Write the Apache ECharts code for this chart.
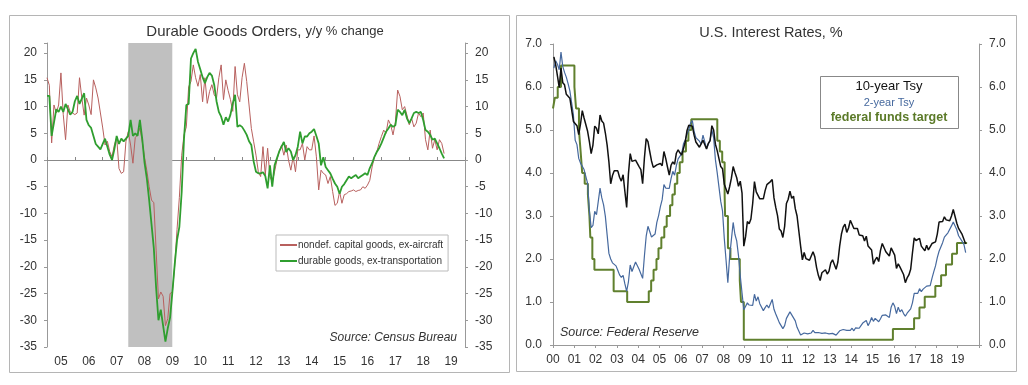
<!DOCTYPE html>
<html><head><meta charset="utf-8">
<script src="https://cdn.jsdelivr.net/npm/echarts@6/dist/echarts.min.js"></script>
<style>html,body{margin:0;padding:0;background:#fff}#c{width:1028px;height:385px}</style>
</head><body><div id="c"></div>
<script>
// ---------- Left panel: Durable goods orders, y/y % change (monthly, from 2005-01) ----------
const dgStart = 2005;
const dgYearLabels = ['05','06','07','08','09','10','11','12','13','14','15','16','17','18','19'];
const recession = ['2007-12-01', '2009-06-30'];
const nondefCapEx = [
  15.4, 14, 3.2, 10.3, 8.8, 10.3, 16.3, 8.5, 3.8, 10.3, 9, 8.8,
  8.5, 8.8, 15.4, 11.6, 8.4, 11.6, 10.3, 8.5, 15, 13.5, 11.6, 8.8,
  6, 2.8, 3.5, 1.6, 0.6, 2.8, 4.2, -1.6, -2.5, -2.2, 3.5, 5.3,
  2.8, -0.6, 4.2, 4.7, 6, 3.5, 0.5, -2, -5, -7.5, -8, -17,
  -26, -24.7, -25.5, -31, -29.7, -25, -24.7, -19.7, -13, -7, 0.9, 4.7,
  6.2, 13.7, 14.7, 17.8, 15.4, 13.8, 16, 10.9, 15.4, 10.6, 12.8, 14.1,
  12.2, 11.6, 15.4, 17.8, 11.3, 15, 13, 11.3, 9.1, 17.5, 12.2, 10.9,
  15.4, 18.1, 14.7, 10.3, 5.9, 3.4, 0.9, -2.2, -3.1, 2.5, -2.8, 2.2,
  -3.1, -4.1, -2.2, 0, 1.6, 2.8, 0.9, 2.8, 0, -1.9, 0.6, -2.2,
  1.9, 1.9, 3.1, 0, 2.5, 1.9, 1.9, 4.5, 0.6, -5.6, -1.9, -2.5,
  -2.8, -4.4, -3.1, -5.9, -8.5, -8.1, -5.9, -8.1, -6.5, -6.3, -5.9, -5.8,
  -5.6, -5.9, -5.7, -5.6, -5, -5.3, -4.7, -3.8, -1.3, 0.6, 1.5, 3.1,
  4.4, 5.6, 5, 7.5, 6.6, 4.7, 7, 13.1, 11.9, 9.4, 10, 8.4,
  6.6, 7.8, 6.2, 6.9, 8.8, 8.1, 8.8, 3.8, 1.9, 5.6, 2.2, 3.8,
  1.9, 3.8, 3.1, 1.2
];
const durableExTrans = [
  12, 12, 4.5, 7, 9.5, 9, 10, 9, 10.5, 9.5, 8.5, 9,
  11, 12, 10.5, 11.5, 12.5, 7.5, 6.5, 6, 4.5, 3, 2.5, 2,
  3, 4, 2.5, 1, 0, 2, 4.5, 3, 4, 3.5, 4, 4.5,
  7.5, 4.5, 5, 4.5, 7.5, 4, -0.5, -3.5, -7.5, -12, -16.5, -24,
  -30, -28, -31, -34, -31.5, -29.5, -24.7, -19.5, -15, -12.5, -6, 4,
  10.3, 10.5, 19, 20, 20.8, 18.4, 17, 15.5, 14.4, 15.5, 16.3, 15.8,
  14.1, 11, 9, 8.1, 6.6, 8, 7.2, 8.5, 10.6, 12.2, 6.2, 6.5,
  6.2, 5.5, 4.7, 3.5, 2.8, -0.3, -2.2, -2.5, -2.5, -2.3, -3, -5.3,
  -1, -5, -1, 0.3, 1.6, 2.5, 3.4, 1.5, 2.2, 1.6, 0, 0.9,
  2.5, 5.3, 3.1, 4.4, 4.4, 5, 5.3, 5.8, 4.5, 3.1, -1, 0.5,
  -1.3, -1.9, -2.5, -3.5, -4.4, -5, -6.3, -5, -4.5, -3.8, -3.1, -3.4,
  -3.1, -2.8, -3.4, -3.1, -2.8, -2.5, -2.8, -1.5, -0.6, 0.6, 1.5, 2.2,
  3.1, 4.2, 5.3, 5.9, 6.6, 6.2, 6.5, 9.4, 9, 8.4, 9.4, 7.8,
  6.9, 7.8, 8.8, 9, 8.8, 9, 7.5, 5.6, 5.3, 4.7, 3.8, 4,
  3.1, 2.2, 1.2, 0.3
];

// ---------- Right panel: U.S. interest rates, % (monthly averages from 2000-01) ----------
const irStart = 2000;
const tsy10 = [
  6.70, 6.52, 6.26, 5.99, 6.44, 6.10, 6.05, 5.83, 5.80, 5.74, 5.72, 5.20,
  5.16, 5.10, 4.89, 5.14, 5.45, 5.28, 5.24, 4.97, 4.73, 4.45, 4.65, 5.09,
  5.04, 4.91, 5.35, 5.21, 5.16, 4.93, 4.65, 4.26, 3.75, 3.94, 4.05, 4.03,
  4.05, 3.90, 3.81, 3.96, 3.57, 3.20, 3.98, 4.45, 4.27, 4.29, 4.30, 4.27,
  4.15, 4.08, 3.75, 4.35, 4.80, 4.73, 4.50, 4.28, 4.13, 4.10, 4.19, 4.23,
  4.22, 4.17, 4.50, 4.34, 4.14, 3.95, 4.18, 4.26, 4.20, 4.46, 4.54, 4.47,
  4.42, 4.57, 4.72, 4.99, 5.11, 5.15, 5.09, 4.88, 4.72, 4.73, 4.60, 4.56,
  4.76, 4.72, 4.56, 4.69, 4.75, 5.10, 5.00, 4.67, 4.52, 4.53, 4.15, 4.10,
  3.74, 3.74, 3.51, 3.68, 3.88, 4.15, 4.01, 3.89, 3.69, 3.81, 3.53, 2.30,
  2.52, 2.87, 2.82, 2.93, 3.29, 3.80, 3.56, 3.59, 3.40, 3.39, 3.40, 3.59,
  3.73, 3.69, 3.80, 3.85, 3.42, 3.20, 3.01, 2.70, 2.65, 2.50, 2.76, 3.29,
  3.39, 3.58, 3.41, 3.46, 3.17, 3.00, 3.00, 2.30, 1.98, 2.15, 2.01, 1.98,
  1.97, 1.97, 2.17, 2.05, 1.80, 1.62, 1.50, 1.68, 1.72, 1.75, 1.65, 1.72,
  1.91, 1.98, 1.96, 1.76, 1.93, 2.30, 2.58, 2.74, 2.81, 2.62, 2.72, 2.90,
  2.86, 2.71, 2.72, 2.71, 2.56, 2.60, 2.54, 2.42, 2.53, 2.30, 2.33, 2.21,
  1.88, 1.98, 2.04, 1.94, 2.20, 2.36, 2.32, 2.17, 2.17, 2.07, 2.26, 2.24,
  2.09, 1.78, 1.89, 1.81, 1.81, 1.64, 1.45, 1.56, 1.63, 1.76, 2.14, 2.49,
  2.43, 2.42, 2.48, 2.30, 2.30, 2.19, 2.32, 2.21, 2.20, 2.36, 2.35, 2.40,
  2.58, 2.86, 2.84, 2.87, 2.98, 2.91, 2.89, 2.89, 3.00, 3.15, 3.12, 2.83,
  2.71, 2.68, 2.57, 2.53, 2.35
];
const tsy2 = [
  6.44, 6.61, 6.53, 6.40, 6.81, 6.48, 6.34, 6.23, 6.08, 5.91, 5.88, 5.35,
  4.76, 4.66, 4.34, 4.23, 4.26, 4.08, 4.04, 3.76, 3.12, 2.73, 2.78, 3.11,
  3.03, 3.02, 3.65, 3.42, 3.26, 2.99, 2.56, 2.13, 2.00, 1.91, 1.92, 1.84,
  1.74, 1.63, 1.57, 1.62, 1.42, 1.25, 1.47, 1.86, 1.71, 1.75, 1.93, 1.91,
  1.76, 1.74, 1.55, 2.07, 2.53, 2.76, 2.64, 2.51, 2.53, 2.58, 2.85, 3.01,
  3.22, 3.38, 3.73, 3.65, 3.64, 3.64, 3.87, 4.04, 3.95, 4.17, 4.33, 4.35,
  4.45, 4.68, 4.77, 4.90, 5.00, 5.16, 5.22, 4.97, 4.82, 4.80, 4.74, 4.67,
  4.88, 4.85, 4.57, 4.67, 4.77, 5.00, 4.82, 4.31, 4.01, 3.97, 3.34, 3.12,
  2.48, 1.97, 1.45, 2.05, 2.45, 2.85, 2.57, 2.42, 2.08, 1.61, 1.21, 0.82,
  0.81, 0.98, 0.93, 0.93, 0.92, 1.18, 1.02, 1.12, 0.96, 0.95, 0.80, 0.87,
  0.93, 0.86, 0.96, 1.06, 0.83, 0.72, 0.62, 0.52, 0.48, 0.38, 0.45, 0.62,
  0.61, 0.77, 0.70, 0.73, 0.56, 0.41, 0.41, 0.23, 0.21, 0.28, 0.25, 0.26,
  0.24, 0.28, 0.34, 0.29, 0.29, 0.29, 0.25, 0.27, 0.26, 0.28, 0.27, 0.26,
  0.27, 0.27, 0.26, 0.23, 0.25, 0.33, 0.34, 0.36, 0.40, 0.34, 0.30, 0.34,
  0.39, 0.33, 0.40, 0.42, 0.39, 0.45, 0.51, 0.47, 0.57, 0.45, 0.53, 0.64,
  0.55, 0.62, 0.64, 0.54, 0.61, 0.69, 0.67, 0.70, 0.71, 0.64, 0.88, 0.98,
  0.90, 0.73, 0.88, 0.77, 0.82, 0.73, 0.67, 0.74, 0.77, 0.84, 0.98, 1.20,
  1.21, 1.20, 1.31, 1.24, 1.30, 1.34, 1.37, 1.34, 1.38, 1.55, 1.70, 1.84,
  2.03, 2.18, 2.28, 2.38, 2.51, 2.53, 2.61, 2.64, 2.77, 2.86, 2.86, 2.68,
  2.54, 2.50, 2.41, 2.34, 2.15
];
const ffDates = [
  '2000-01-01','2000-02-02','2000-03-21','2000-05-16','2001-01-03','2001-01-31','2001-03-20',
  '2001-04-18','2001-05-15','2001-06-27','2001-08-21','2001-09-17','2001-10-02','2001-11-06',
  '2001-12-11','2002-11-06','2003-06-25','2004-06-30','2004-08-10','2004-09-21','2004-11-10',
  '2004-12-14','2005-02-02','2005-03-22','2005-05-03','2005-06-30','2005-08-09','2005-09-20',
  '2005-11-01','2005-12-13','2006-01-31','2006-03-28','2006-05-10','2006-06-29','2007-09-18',
  '2007-10-31','2007-12-11','2008-01-22','2008-01-30','2008-03-18','2008-04-30','2008-10-08',
  '2008-10-29','2008-12-16','2015-12-16','2016-12-14','2017-03-15','2017-06-14','2017-12-13',
  '2018-03-21','2018-06-13','2018-09-26','2018-12-19','2019-06-10'
];
const ffTarget = [
  5.5, 5.75, 6.0, 6.5, 6.0, 5.5, 5.0,
  4.5, 4.0, 3.75, 3.5, 3.0, 2.5, 2.0,
  1.75, 1.25, 1.0, 1.25, 1.5, 1.75, 2.0,
  2.25, 2.5, 2.75, 3.0, 3.25, 3.5, 3.75,
  4.0, 4.25, 4.5, 4.75, 5.0, 5.25, 4.75,
  4.5, 4.25, 3.5, 3.0, 2.25, 2.0, 1.5,
  1.0, 0.125, 0.375, 0.625, 0.875, 1.125, 1.375,
  1.625, 1.875, 2.125, 2.375, 2.375
];

// ---------- helpers ----------
function toYear(s){ const p = s.split('-').map(Number); return p[0] + (p[1]-1)/12 + ((p[2]||1)-1)/365; }
const monthly = (arr, start, off) => arr.map((v,i)=>[start + (i+off)/12, v]);

const FONT = "'Liberation Sans', Arial, sans-serif";
const NARROW = "'Liberation Sans Narrow', 'Liberation Sans', Arial, sans-serif";
const axisGray = '#999';
const lblStyle = {color:'#333', fontSize:12, fontFamily:FONT};
const RED = '#b8605e', GREEN = '#2f9e2f';

const chart = echarts.init(document.getElementById('c'), null, {renderer:'canvas'});
chart.setOption({
  animation:false,
  backgroundColor:'#fff',
  textStyle:{fontFamily:FONT},
  title:[
    {text:'{a|Durable Goods Orders, }{b|y/y % change}', left:260, top:19, textAlign:'center',
     textStyle:{fontWeight:'normal', rich:{a:{fontSize:15,color:'#333',fontWeight:'normal',fontFamily:FONT}, b:{fontSize:13,color:'#333',fontWeight:'normal',fontFamily:FONT}}}},
    {text:'U.S. Interest Rates, %', left:766, top:20, textAlign:'center',
     textStyle:{fontSize:14.5,color:'#333',fontWeight:'normal',fontFamily:FONT}}
  ],
  legend:{
    left:276, top:235, orient:'vertical', itemWidth:17, itemHeight:2, itemGap:6,
    padding:[5,5,5,4], borderColor:'#bbb', borderWidth:1, backgroundColor:'#fff',
    data:[
      {name:'nondef. capital goods, ex-aircraft', icon:'rect', itemStyle:{color:RED}},
      {name:'durable goods, ex-transportation', icon:'rect', itemStyle:{color:GREEN}}
    ],
    textStyle:{fontSize:10, color:'#333', fontFamily:NARROW, padding:[0,0,0,-4]}
  },
  grid:[
    {left:47, right:563, top:43, bottom:38, containLabel:false, outerBoundsMode:'none'},
    {left:553, right:49, top:44, bottom:40, containLabel:false, outerBoundsMode:'none'}
  ],
  xAxis:[
    {type:'value', gridIndex:0, position:'top', min:2005, max:2020, interval:1,
     axisLine:{onZero:true, onZeroAxisIndex:0, lineStyle:{color:'#888'}},
     axisTick:{show:true, length:3, lineStyle:{color:'#888'}},
     axisLabel:{show:false}, splitLine:{show:false}},
    {type:'category', gridIndex:0, position:'bottom', data:dgYearLabels, boundaryGap:true,
     axisLine:{show:false, onZero:false}, axisTick:{show:false},
     axisLabel:Object.assign({margin:9}, lblStyle), splitLine:{show:false}},
    {type:'value', gridIndex:1, position:'bottom', min:2000, max:2020, interval:1,
     axisLine:{onZero:false, lineStyle:{color:axisGray}},
     axisTick:{show:true, length:3, lineStyle:{color:axisGray}},
     axisLabel:Object.assign({margin:9, formatter:v => v < 2020 ? String(v % 100).padStart(2,'0') : ''}, lblStyle),
     splitLine:{show:false}}
  ],
  yAxis:[
    {type:'value', gridIndex:0, position:'left', min:-35, max:21.9, interval:5,
     axisLine:{show:true, lineStyle:{color:axisGray}}, axisTick:{show:true, length:3, lineStyle:{color:axisGray}},
     axisLabel:Object.assign({margin:10, formatter:v => (v % 5 === 0 ? String(v) : '')}, lblStyle), splitLine:{show:false}},
    {type:'value', gridIndex:0, position:'right', min:-35, max:21.9, interval:5,
     axisLine:{show:true, lineStyle:{color:axisGray}}, axisTick:{show:true, length:3, lineStyle:{color:axisGray}},
     axisLabel:Object.assign({margin:10, formatter:v => (v % 5 === 0 ? String(v) : '')}, lblStyle), splitLine:{show:false}},
    {type:'value', gridIndex:1, position:'left', min:0, max:7, interval:1,
     axisLine:{show:true, lineStyle:{color:axisGray}}, axisTick:{show:true, length:3, lineStyle:{color:axisGray}},
     axisLabel:Object.assign({margin:11, formatter:v => v.toFixed(1)}, lblStyle), splitLine:{show:false}},
    {type:'value', gridIndex:1, position:'right', min:0, max:7, interval:1,
     axisLine:{show:true, lineStyle:{color:axisGray}}, axisTick:{show:true, length:3, lineStyle:{color:axisGray}},
     axisLabel:Object.assign({margin:10, formatter:v => v.toFixed(1)}, lblStyle), splitLine:{show:false}}
  ],
  series:[
    {name:'recession', type:'line', xAxisIndex:0, yAxisIndex:0, data:[], z:1, silent:true,
     markArea:{silent:true, itemStyle:{color:'#c0c0c0'},
       data:[[{xAxis:toYear(recession[0])},{xAxis:toYear(recession[1])}]]}},
    {name:'nondef. capital goods, ex-aircraft', type:'line', xAxisIndex:0, yAxisIndex:0, z:3,
     data:monthly(nondefCapEx, dgStart, 0), symbol:'none', color:RED,
     lineStyle:{color:RED, width:1}},
    {name:'durable goods, ex-transportation', type:'line', xAxisIndex:0, yAxisIndex:0, z:4,
     data:monthly(durableExTrans, dgStart, 0), symbol:'none', color:GREEN,
     lineStyle:{color:GREEN, width:1.8}},
    {name:'federal funds target', type:'line', xAxisIndex:2, yAxisIndex:2, z:3, step:'end',
     data:ffDates.map((d,i)=>[toYear(d), ffTarget[i]]), symbol:'none',
     lineStyle:{color:'#60802e', width:2}},
    {name:'2-year Tsy', type:'line', xAxisIndex:2, yAxisIndex:2, z:4,
     data:monthly(tsy2, irStart, 0.5), symbol:'none', lineStyle:{color:'#46699e', width:1.2}},
    {name:'10-year Tsy', type:'line', xAxisIndex:2, yAxisIndex:2, z:5,
     data:monthly(tsy10, irStart, 0.5), symbol:'none', lineStyle:{color:'#111', width:1.5}}
  ],
  graphic:[
    {type:'rect', shape:{x:9.5, y:15.5, width:500, height:357}, style:{fill:null, stroke:'#b5b5b5', lineWidth:1}, silent:true, z:-1},
    {type:'rect', shape:{x:516.5, y:15.5, width:500, height:356}, style:{fill:null, stroke:'#b5b5b5', lineWidth:1}, silent:true, z:-1},
    {type:'text', x:457, y:332, style:{text:'Source: Census Bureau', fill:'#333', font:'italic 12px ' + FONT, textAlign:'right'}, z:10},
    {type:'text', x:560, y:326, style:{text:'Source: Federal Reserve', fill:'#333', font:'italic 12.5px ' + FONT, textAlign:'left'}, z:10},
    {type:'rect', shape:{x:820.5, y:76.5, width:138, height:52}, style:{fill:'#fff', stroke:'#888', lineWidth:1}, z:10},
    {type:'text', x:889, y:80, style:{text:'10-year Tsy', fill:'#111', font:'13px ' + FONT, textAlign:'center'}, z:11},
    {type:'text', x:889, y:97, style:{text:'2-year Tsy', fill:'#46699e', font:'11px ' + FONT, textAlign:'center'}, z:11},
    {type:'text', x:889, y:111, style:{text:'federal funds target', fill:'#5b7a28', font:'bold 12.5px ' + FONT, textAlign:'center'}, z:11}
  ]
});
</script></body></html>
